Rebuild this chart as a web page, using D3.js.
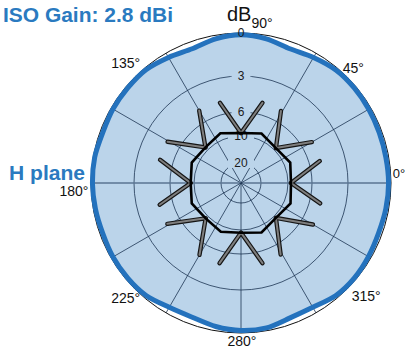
<!DOCTYPE html>
<html><head><meta charset="utf-8">
<script src="https://cdn.jsdelivr.net/npm/d3@7"></script>
<style>html,body{margin:0;padding:0;background:#fff}svg{display:block}</style>
</head><body>
<svg id="chart" width="405" height="349"></svg>
<script>
// ---------- data ----------
const ringDb = [0, 3, 6, 10, 20];
const ringLabels = ["0", "3", "6", "10", "20"];
const spokeAngles = [0, 30, 60, 120, 150, 180, 210, 240, 270, 300, 330];
const angleLabelAngles = [0, 45, 135, 180, 225, 270, 315];
const angleLabelTexts = ["0°", "45°", "135°", "180°", "225°", "280°", "315°"];
const hPlaneAngles = [0,10,20,30,40,50,60,70,80,90,100,110,120,130,140,150,160,170,180,190,200,210,220,230,240,250,260,270,280,290,300,310,320,330,340,350];
const hPlaneDb    = [0.17,0.2,0.2,0.17,0.15,0.17,0.35,0.5,0.25,0.12,0.25,0.5,0.35,0.15,0.15,0.15,0.2,0.1,0.1,0.15,0.2,0.15,0.15,0.2,0.45,0.5,0.3,0.17,0.2,0.45,0.45,0.2,0.15,0.2,0.25,0.2];
const innerAngles = [0,22.5,45,67.5,90,112.5,135,157.5,180,202.5,225,247.5,270,292.5,315,337.5];
const innerDb     = [9.5,8.95,9.6,8.9,9.5,8.85,9.45,8.95,9.45,8.95,9.5,9.05,9.55,8.9,9.6,8.9];
const spikeBaseAngles = [0,0,45,45,90,90,135,135,180,180,225,225,270,270,315,315];
const spikeTipAngles  = [15.6,345.6,30,61,75,104.7,120,150.7,164,195,209,240,255,285,299,330];
const spikeTipDb      = [5.1,5.1,5.1,5.05,5.0,5.0,4.95,4.9,4.9,4.9,4.9,5.0,5.0,5.0,5.1,5.0];
const titleText = "ISO Gain: 2.8 dBi";
const planeText = "H plane";
const unitText = "dB";
const topAngleText = "90°";

// ---------- layout ----------
const cx = 241, cy = 183;
const svg = d3.select("#chart");
const font = "'Liberation Sans', Arial, Helvetica, sans-serif";
const blue = "#2472bd", fillBlue = "#bbd4ea", grid = "#1d3553";
const r = d3.scaleLinear().domain([0, 3, 6, 10, 20, 40]).range([150, 107, 71, 47, 20, 0]).clamp(true);
const ang = a => (90 - a) * Math.PI / 180;
const pt = (a, rad) => [cx + rad * Math.cos(a * Math.PI / 180), cy - rad * Math.sin(a * Math.PI / 180)];

const g = svg.append("g").attr("transform", `translate(${cx},${cy})`);

// H-plane pattern fill
const hData = hPlaneAngles.map((a, i) => ({a, v: hPlaneDb[i]}));
const hLine = d3.lineRadial().angle(d => ang(d.a)).radius(d => r(d.v)).curve(d3.curveCardinalClosed.tension(0.2));
g.append("path").attr("d", hLine(hData)).attr("fill", fillBlue).attr("stroke", "none");

// rings
g.selectAll("circle.ring").data(ringDb.filter(d => d > 0)).join("circle")
  .attr("class", "ring").attr("r", d => r(d)).attr("fill", "none")
  .attr("stroke", grid).attr("stroke-width", 0.8);

// spokes
g.selectAll("line.spoke").data(spokeAngles).join("line")
  .attr("class", "spoke")
  .attr("x1", 0).attr("y1", 0)
  .attr("x2", d => r(0) * Math.cos(d * Math.PI / 180))
  .attr("y2", d => -r(0) * Math.sin(d * Math.PI / 180))
  .attr("stroke", d => (d % 180 === 0) ? "#5a7592" : grid)
  .attr("stroke-width", d => (d % 180 === 0) ? 1.5 : 0.8);

// outer 0 dB circle
g.append("circle").attr("r", r(0)).attr("fill", "none").attr("stroke", "#111").attr("stroke-width", 1);

// H-plane stroke
g.append("path").attr("d", hLine(hData)).attr("fill", "none").attr("stroke", blue).attr("stroke-width", 5);

// ring labels
const rl = g.selectAll("g.rl").data(ringDb).join("g").attr("class", "rl")
  .attr("transform", d => `translate(0,${-r(d)})`);
rl.filter(d => d > 0).append("rect")
  .attr("x", (d) => -(ringLabels[ringDb.indexOf(d)].length * 3.5 + 6))
  .attr("width", (d) => ringLabels[ringDb.indexOf(d)].length * 7 + 12)
  .attr("y", -5).attr("height", 10).attr("fill", fillBlue);
rl.append("text").text((d, i) => ringLabels[i])
  .attr("text-anchor", "middle").attr("dy", "0.36em")
  .attr("font-family", font).attr("font-size", 12).attr("fill", "#1a1a1a");

// spikes
const spikeData = spikeBaseAngles.map((b, i) => [
  {a: b, v: innerDb[innerAngles.indexOf(b)]},
  {a: spikeTipAngles[i], v: spikeTipDb[i]}
]);
const sLine = d3.lineRadial().angle(d => ang(d.a)).radius(d => r(d.v));
g.selectAll("path.spikeO").data(spikeData).join("path").attr("class", "spikeO")
  .attr("d", sLine).attr("fill", "none").attr("stroke", "#151515")
  .attr("stroke-width", 4.4).attr("stroke-linecap", "round");
g.selectAll("path.spikeI").data(spikeData).join("path").attr("class", "spikeI")
  .attr("d", sLine).attr("fill", "none").attr("stroke", "#7e7e7e")
  .attr("stroke-width", 2).attr("stroke-linecap", "round");

// inner polygon pattern
const innerData = innerAngles.map((a, i) => ({a, v: innerDb[i]}));
g.append("path").attr("d", d3.lineRadial().angle(d => ang(d.a)).radius(d => r(d.v)).curve(d3.curveLinearClosed)(innerData))
  .attr("fill", "none").attr("stroke", "#000").attr("stroke-width", 2.6).attr("stroke-linejoin", "miter");

// angle labels
const nudge = {0: [-5, -10], 45: [-3, 0], 135: [0, -5], 180: [-4, 8], 225: [0, 0], 270: [1, -5], 315: [10, -2]};
svg.selectAll("text.al").data(angleLabelAngles).join("text").attr("class", "al")
  .attr("x", d => pt(d, 163)[0] + nudge[d][0])
  .attr("y", d => pt(d, 163)[1] + nudge[d][1])
  .attr("dy", "0.36em").attr("text-anchor", "middle")
  .attr("font-family", font).attr("font-size", d => d === 0 ? 13 : 14).attr("fill", "#111")
  .text((d, i) => angleLabelTexts[i]);

// dB with 90° subscript
const unit = svg.append("text").attr("x", 227).attr("y", 21)
  .attr("font-family", font).attr("fill", "#111");
unit.append("tspan").attr("font-size", 20).text(unitText);
unit.append("tspan").attr("font-size", 14).attr("dy", 7).text(topAngleText);

// title and plane
svg.append("text").attr("x", 3).attr("y", 22).text(titleText)
  .attr("font-family", font).attr("font-weight", "bold").attr("font-size", 21)
  .attr("fill", "#2a7ac0").attr("textLength", 170).attr("lengthAdjust", "spacingAndGlyphs");
svg.append("text").attr("x", 9).attr("y", 180).text(planeText)
  .attr("font-family", font).attr("font-weight", "bold").attr("font-size", 20)
  .attr("fill", "#2a7ac0").attr("textLength", 76).attr("lengthAdjust", "spacingAndGlyphs");
</script>
</body></html>
